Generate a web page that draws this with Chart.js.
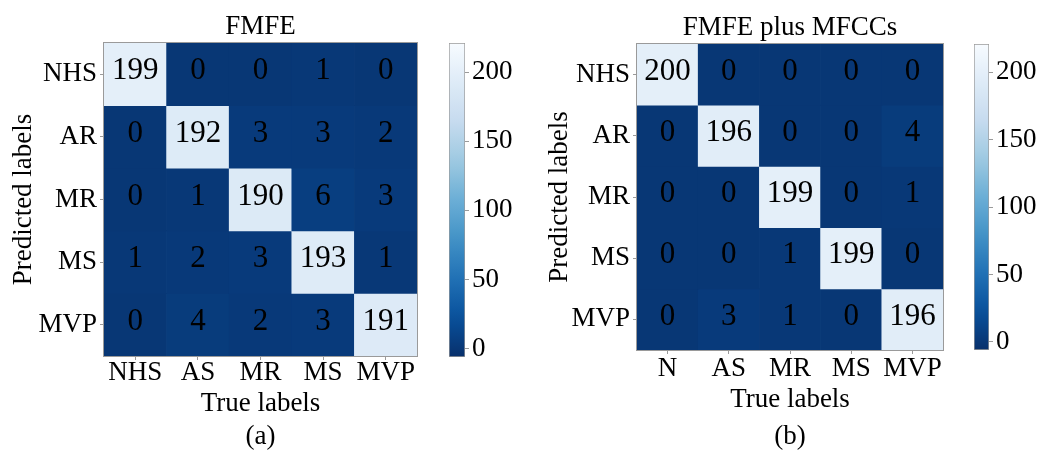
<!DOCTYPE html>
<html>
<head>
<meta charset="utf-8">
<title>Confusion matrices</title>
<script src="https://cdn.jsdelivr.net/npm/chart.js@4.4.0/dist/chart.umd.min.js"></script>
<style>
  html, body { margin: 0; padding: 0; background: #fff; }
  #wrap { position: relative; width: 1037px; height: 452px; overflow: hidden; }
  .box { position: absolute; top: 0; height: 452px; }
</style>
</head>
<body>
<div id="wrap">
  <div class="box" style="left:0;width:430px"><canvas id="cmA"></canvas></div>
  <div class="box" style="left:440px;width:90px"><canvas id="cbA"></canvas></div>
  <div class="box" style="left:520px;width:440px"><canvas id="cmB"></canvas></div>
  <div class="box" style="left:965px;width:72px"><canvas id="cbB"></canvas></div>
</div>
<script>
// rows = predicted class, columns = true class
const predLabels = ['NHS', 'AR', 'MR', 'MS', 'MVP'];
const trueLabelsA = ['NHS', 'AS', 'MR', 'MS', 'MVP'];
const trueLabelsB = ['N', 'AS', 'MR', 'MS', 'MVP'];

const countsA = [
  [199, 0, 0, 1, 0],
  [0, 192, 3, 3, 2],
  [0, 1, 190, 6, 3],
  [1, 2, 3, 193, 1],
  [0, 4, 2, 3, 191]
];
const countsB = [
  [200, 0, 0, 0, 0],
  [0, 196, 0, 0, 4],
  [0, 0, 199, 0, 1],
  [0, 0, 1, 199, 0],
  [0, 3, 1, 0, 196]
];

const colorMin = -6;
const colorMax = 221;
const colorStep = 50;

// matplotlib "Blues", light -> dark
const bluesStops = ['#f7fbff', '#deebf7', '#c6dbef', '#9ecae1', '#6baed6', '#4292c6', '#2171b5', '#08519c', '#08306b'];

const FONT = "'Liberation Serif', 'Times New Roman', serif";
const INK = '#000';
const FRAME = '#9a9a9a';

function hexToRgb(h) {
  const n = parseInt(h.slice(1), 16);
  return [(n >> 16) & 255, (n >> 8) & 255, n & 255];
}

// reversed Blues: low counts dark, high counts pale
function cellColor(v) {
  let t = (v - colorMin) / (colorMax - colorMin);
  t = Math.min(1, Math.max(0, 1 - t));
  const pos = t * (bluesStops.length - 1);
  const i = Math.min(bluesStops.length - 2, Math.floor(pos));
  const f = pos - i;
  const a = hexToRgb(bluesStops[i]);
  const b = hexToRgb(bluesStops[i + 1]);
  const c = a.map((x, k) => Math.round(x + (b[k] - x) * f));
  return `rgb(${c[0]}, ${c[1]}, ${c[2]})`;
}

function heatmap(id, counts, xLabels, title, caption, box) {
  const cellText = {
    id: 'cellText',
    afterDatasetsDraw(chart) {
      const ctx = chart.ctx;
      ctx.save();
      ctx.font = `31px ${FONT}`;
      ctx.fillStyle = INK;
      ctx.textAlign = 'center';
      ctx.textBaseline = 'middle';
      chart.data.datasets.forEach((ds, r) => {
        chart.getDatasetMeta(r).data.forEach((bar, c) => {
          const p = bar.getCenterPoint();
          ctx.fillText(String(counts[r][c]), p.x, p.y - 3);
        });
      });
      // outline round the matrix
      const a = chart.chartArea;
      ctx.strokeStyle = FRAME;
      ctx.lineWidth = 1;
      ctx.strokeRect(a.left - 0.5, a.top - 0.5, a.right - a.left + 1, a.bottom - a.top + 1);
      ctx.restore();
    }
  };

  return new Chart(document.getElementById(id), {
    type: 'bar',
    data: {
      labels: xLabels,
      datasets: predLabels.map((name, r) => ({
        label: name,
        data: counts[r].map(() => 1),
        backgroundColor: ctx => cellColor(counts[r][ctx.dataIndex]),
        borderWidth: 0,
        barPercentage: 1,
        categoryPercentage: 1
      }))
    },
    options: {
      responsive: true,
      maintainAspectRatio: false,
      animation: false,
      events: [],
      layout: { padding: { left: 0, right: box.right, top: 0, bottom: 0 } },
      plugins: {
        legend: { display: false },
        tooltip: { enabled: false },
        title: {
          display: true,
          text: title,
          fullSize: false,
          color: INK,
          font: { family: FONT, size: 27, weight: 'normal', lineHeight: 1 },
          padding: { top: box.top - 30, bottom: 3 }
        },
        subtitle: {
          display: true,
          text: caption,
          position: 'bottom',
          fullSize: false,
          color: INK,
          font: { family: FONT, size: 27, weight: 'normal', lineHeight: 1 },
          padding: { top: 0, bottom: 2 }
        }
      },
      scales: {
        x: {
          stacked: true,
          grid: { offset: false, drawOnChartArea: false, tickLength: 4, color: FRAME },
          border: { display: false },
          ticks: {
            color: INK,
            font: { family: FONT, size: 27 },
            padding: box.xTickPad,
            maxRotation: 0,
            autoSkip: false
          },
          title: {
            display: true,
            text: 'True labels',
            color: INK,
            font: { family: FONT, size: 27 },
            padding: { top: 0, bottom: box.xTitlePad }
          },
          afterFit: s => { s.height = box.xAxis; }
        },
        y: {
          stacked: true,
          reverse: true,
          min: 0,
          max: predLabels.length,
          grid: { drawOnChartArea: false, tickLength: 4, color: FRAME },
          border: { display: false },
          afterBuildTicks: s => { s.ticks = predLabels.map((_, i) => ({ value: i + 0.5 })); },
          ticks: {
            color: INK,
            font: { family: FONT, size: 27 },
            padding: 3,
            autoSkip: false,
            callback: v => predLabels[Math.floor(v)]
          },
          title: {
            display: true,
            text: 'Predicted labels',
            color: INK,
            font: { family: FONT, size: 27 },
            padding: { top: box.yTitlePad, bottom: 0 }
          },
          afterFit: s => { s.width = box.yAxis; }
        }
      }
    },
    plugins: [cellText]
  });
}

function colorbar(id, box) {
  const fill = chart => {
    const area = chart.chartArea;
    if (!area) return bluesStops[8];
    const y = chart.scales.y;
    const g = chart.ctx.createLinearGradient(0, y.getPixelForValue(colorMin), 0, y.getPixelForValue(colorMax));
    for (let k = 0; k <= 20; k++) {
      const v = colorMin + (colorMax - colorMin) * k / 20;
      g.addColorStop(k / 20, cellColor(v));
    }
    return g;
  };

  return new Chart(document.getElementById(id), {
    type: 'bar',
    data: {
      labels: [''],
      datasets: [{
        data: [[colorMin, colorMax]],
        backgroundColor: ctx => fill(ctx.chart),
        borderColor: FRAME,
        borderWidth: 1,
        borderSkipped: false,
        barPercentage: 1,
        categoryPercentage: 1
      }]
    },
    options: {
      responsive: true,
      maintainAspectRatio: false,
      animation: false,
      events: [],
      layout: { padding: { left: box.left, right: 0, top: box.top, bottom: box.bottom } },
      plugins: { legend: { display: false }, tooltip: { enabled: false } },
      scales: {
        x: { display: false },
        y: {
          position: 'right',
          min: colorMin,
          max: colorMax,
          grid: { drawOnChartArea: false, tickLength: 4, color: FRAME },
          border: { display: false },
          ticks: {
            stepSize: colorStep,
            includeBounds: false,
            color: INK,
            font: { family: FONT, size: 27 },
            padding: 3
          },
          afterFit: s => { s.width = box.axis; }
        }
      }
    }
  });
}

heatmap('cmA', countsA, trueLabelsA, 'FMFE', '(a)',
  { top: 43, right: 13, yAxis: 104, xAxis: 67, xTickPad: -3, xTitlePad: 3, yTitlePad: 8 });
colorbar('cbA', { left: 9, top: 43, bottom: 95, axis: 65 });

heatmap('cmB', countsB, trueLabelsB, 'FMFE plus MFCCs', '(b)',
  { top: 44, right: 17, yAxis: 117, xAxis: 73, xTickPad: -1, xTitlePad: 7, yTitlePad: 24 });
colorbar('cbB', { left: 9, top: 44, bottom: 102, axis: 48 });
</script>
</body>
</html>
